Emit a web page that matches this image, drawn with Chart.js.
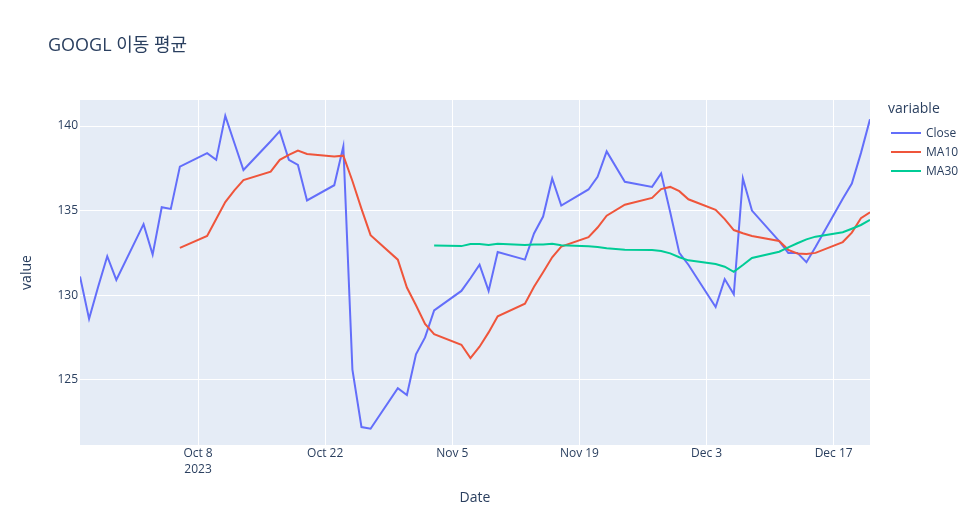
<!DOCTYPE html>
<html>
<head>
<meta charset="utf-8">
<title>GOOGL 이동 평균</title>
<script src="https://cdn.jsdelivr.net/npm/chart.js@4.4.1/dist/chart.umd.min.js"></script>
<style>
    body { margin: 0; background: #ffffff; }
    #wrap {
        position: relative;
        width: 976px;
        height: 525px;
        font-family: "Open Sans", "Noto Sans CJK KR", sans-serif;
        color: #2a3f5f;
    }
    #chart { position: absolute; left: 0; top: 0; }
    .chart-title {
        position: absolute;
        left: 48px;
        top: 31px;
        font-size: 18px;
        line-height: 26px;
        white-space: nowrap;
    }
    .legend-title {
        position: absolute;
        left: 888px;
        top: 98px;
        font-size: 14px;
        line-height: 20px;
    }
    .legend-item {
        position: absolute;
        left: 891px;
        height: 20px;
        font-size: 12px;
        line-height: 20px;
        white-space: nowrap;
    }
    .legend-line {
        position: absolute;
        left: 0;
        top: 9px;
        width: 30px;
        height: 2px;
    }
    .legend-label { position: absolute; left: 35px; top: 0; }
</style>
</head>
<body>
<div id="wrap">
    <canvas id="chart" width="976" height="525"></canvas>
    <div class="chart-title">GOOGL 이동 평균</div>
    <div id="legend"></div>
</div>
<script>
// trading days shown on the chart
const dates = [
    "2023-09-25", "2023-09-26", "2023-09-27", "2023-09-28", "2023-09-29",
    "2023-10-02", "2023-10-03", "2023-10-04", "2023-10-05", "2023-10-06",
    "2023-10-09", "2023-10-10", "2023-10-11", "2023-10-12", "2023-10-13",
    "2023-10-16", "2023-10-17", "2023-10-18", "2023-10-19", "2023-10-20",
    "2023-10-23", "2023-10-24", "2023-10-25", "2023-10-26", "2023-10-27",
    "2023-10-30", "2023-10-31", "2023-11-01", "2023-11-02", "2023-11-03",
    "2023-11-06", "2023-11-07", "2023-11-08", "2023-11-09", "2023-11-10",
    "2023-11-13", "2023-11-14", "2023-11-15", "2023-11-16", "2023-11-17",
    "2023-11-20", "2023-11-21", "2023-11-22", "2023-11-24",
    "2023-11-27", "2023-11-28", "2023-11-29", "2023-11-30", "2023-12-01",
    "2023-12-04", "2023-12-05", "2023-12-06", "2023-12-07", "2023-12-08",
    "2023-12-11", "2023-12-12", "2023-12-13", "2023-12-14", "2023-12-15",
    "2023-12-18", "2023-12-19", "2023-12-20", "2023-12-21"
];

const closeValues = [
    131.1, 128.6, 130.5, 132.3, 130.9,
    134.2, 132.4, 135.2, 135.1, 137.6,
    138.4, 138.0, 140.6, 139.0, 137.4,
    139.1, 139.7, 138.0, 137.7, 135.6,
    136.5, 138.8, 125.6, 122.2, 122.1,
    124.5, 124.1, 126.5, 127.5, 129.1,
    130.25, 131.0, 131.8, 130.25, 132.55,
    132.1, 133.65, 134.65, 136.9, 135.3,
    136.25, 137.0, 138.5, 136.7,
    136.4, 137.2, 134.9, 132.5, 131.8,
    129.3, 130.95, 130.05, 136.9, 135.0,
    133.2, 132.5, 132.5, 131.95, 132.85,
    135.7, 136.6, 138.4, 140.4
];

// MA10 starts on the 10th trading day (Oct 6)
const ma10Start = 9;
const ma10Values = [
    132.8, 133.5, 134.5, 135.5, 136.2, 136.8, 137.3, 138.0, 138.3, 138.55,
    138.35, 138.2, 138.25, 136.75, 135.1, 133.55, 132.1, 130.45, 129.4, 128.3,
    127.7, 127.07, 126.28, 126.95, 127.8, 128.75, 129.5, 130.5, 131.35, 132.24,
    132.87, 133.43, 134.0, 134.7, 135.35, 135.75, 136.27, 136.4, 136.15, 135.67,
    135.05, 134.5, 133.85, 133.66, 133.5, 133.2, 132.68, 132.47, 132.43, 132.5,
    133.14, 133.7, 134.55, 134.9
];

// MA30 starts on the 30th trading day (Nov 3)
const ma30Start = 29;
const ma30Values = [
    132.93, 132.9, 133.02, 133.03, 132.97, 133.04, 132.97, 132.99, 133.0, 133.04,
    132.95, 132.89, 132.85, 132.77, 132.69, 132.67, 132.61, 132.47, 132.24, 132.06,
    131.84, 131.68, 131.38, 131.78, 132.2, 132.57, 132.83, 133.07, 133.3, 133.46,
    133.72, 133.93, 134.15, 134.45
];

const xTickDates = ["2023-10-08", "2023-10-22", "2023-11-05", "2023-11-19", "2023-12-03", "2023-12-17"];
const xTickLabels = [["Oct 8", "2023"], "Oct 22", "Nov 5", "Nov 19", "Dec 3", "Dec 17"];
const yTickValues = [125, 130, 135, 140];

const seriesNames = ["Close", "MA10", "MA30"];
const seriesColors = ["#636efa", "#EF553B", "#00cc96"];

function toDay(dateString) {
    let parts = dateString.split("-");
    return Date.UTC(+parts[0], +parts[1] - 1, +parts[2]) / 86400000;
}

function buildPoints(values, start) {
    return values.map((value, i) => ({ x: toDay(dates[start + i]), y: value }));
}

// light blue plot area like plotly
const plotBackground = {
    id: "plotBackground",
    beforeDraw(chart) {
        const { ctx, chartArea } = chart;
        ctx.save();
        ctx.fillStyle = "#E5ECF6";
        ctx.fillRect(chartArea.left, chartArea.top, chartArea.width, chartArea.height);
        ctx.restore();
    }
};

function createLegend() {
    let legend = document.querySelector("#legend");
    let title = document.createElement("div");
    title.setAttribute("class", "legend-title");
    title.innerHTML = "variable";
    legend.appendChild(title);
    seriesNames.forEach((name, i) => {
        let item = document.createElement("div");
        item.setAttribute("class", "legend-item");
        item.style.top = (123 + i * 19) + "px";
        let line = document.createElement("div");
        line.setAttribute("class", "legend-line");
        line.style.background = seriesColors[i];
        let label = document.createElement("span");
        label.setAttribute("class", "legend-label");
        label.innerHTML = name;
        item.appendChild(line);
        item.appendChild(label);
        legend.appendChild(item);
    });
}

function createChart() {
    Chart.defaults.font.family = '"Open Sans", "Noto Sans CJK KR", sans-serif';
    Chart.defaults.color = "#2a3f5f";

    let seriesData = [
        buildPoints(closeValues, 0),
        buildPoints(ma10Values, ma10Start),
        buildPoints(ma30Values, ma30Start)
    ];

    const ctx = document.getElementById("chart").getContext("2d");
    new Chart(ctx, {
        type: "line",
        data: {
            datasets: seriesNames.map((name, i) => ({
                label: name,
                data: seriesData[i],
                borderColor: seriesColors[i],
                backgroundColor: seriesColors[i],
                borderWidth: 2,
                pointRadius: 0,
                tension: 0,
                fill: false,
                order: 3 - i
            }))
        },
        options: {
            responsive: false,
            animation: false,
            devicePixelRatio: 1,
            layout: { padding: { top: 100, right: 106, bottom: 0, left: 0 } },
            plugins: {
                legend: { display: false },
                tooltip: { enabled: false }
            },
            scales: {
                x: {
                    type: "linear",
                    min: toDay(dates[0]),
                    max: toDay(dates[dates.length - 1]),
                    afterBuildTicks: scale => {
                        scale.ticks = xTickDates.map(d => ({ value: toDay(d) }));
                    },
                    afterFit: scale => { scale.height = 80; },
                    ticks: {
                        autoSkip: false,
                        maxRotation: 0,
                        padding: 1,
                        font: { size: 12, lineHeight: "16px" },
                        callback: (value, index) => xTickLabels[index]
                    },
                    grid: { color: "#ffffff", lineWidth: 1, drawTicks: false },
                    border: { display: false },
                    title: {
                        display: true,
                        text: "Date",
                        font: { size: 14 },
                        padding: { top: 0, bottom: 19 }
                    }
                },
                y: {
                    min: 121.14,
                    max: 141.54,
                    afterBuildTicks: scale => {
                        scale.ticks = yTickValues.map(v => ({ value: v }));
                    },
                    afterFit: scale => { scale.width = 80; },
                    ticks: {
                        padding: 2,
                        font: { size: 12 },
                        callback: value => value
                    },
                    grid: { color: "#ffffff", lineWidth: 1, drawTicks: false },
                    border: { display: false },
                    title: {
                        display: true,
                        text: "value",
                        font: { size: 14 },
                        padding: { top: 19, bottom: 0 }
                    }
                }
            }
        },
        plugins: [plotBackground]
    });
}

document.addEventListener("DOMContentLoaded", function() {
    createLegend();
    createChart();
});
</script>
</body>
</html>
